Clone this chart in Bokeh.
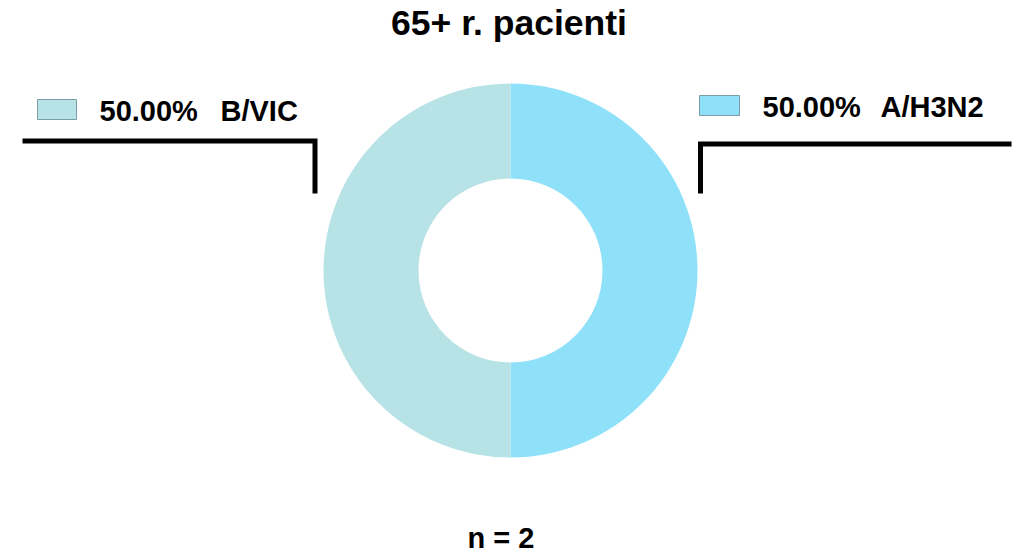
from math import pi
from bokeh.plotting import figure
from bokeh.models import Range1d
from bokeh.core.properties import value
from bokeh.embed import file_html
from bokeh.resources import INLINE

# ---- data ----
categories = ["A/H3N2", "B/VIC"]
counts = [1, 1]
colors = ["#8fe1fa", "#b7e2e6"]
title_text = "65+ r. pacienti"

total = sum(counts)
percents = [f"{c / total * 100:.2f}%" for c in counts]

W, H = 1018, 553
p = figure(width=W, height=H, output_backend="svg", toolbar_location=None,
           x_range=Range1d(0, W), y_range=Range1d(0, H),
           min_border=0, outline_line_color=None)
p.axis.visible = False
p.grid.visible = False

def Y(y):  # reference (top-down) pixel -> data
    return H - y

cx, cy = 510, Y(270)
r_out, r_in = 187, 92

# wedges, starting at 12 o'clock going clockwise
start = pi / 2
for cat, c, col in zip(categories, counts, colors):
    sweep = c / total * 2 * pi
    p.annular_wedge(x=cx, y=cy, inner_radius=r_in, outer_radius=r_out,
                    start_angle=start, end_angle=start - sweep, direction="clock",
                    fill_color=col, line_color=None)
    start -= sweep

font = value("Liberation Sans")

def label(x, y, txt, size, align="left"):
    p.text(x=[x], y=[Y(y)], text=[txt], text_font=font, text_font_size=size,
           text_font_style="bold", text_align=align, text_baseline="middle",
           text_color="black")

# title
label(508.5, 22, title_text, "35.5px", "center")
# n = ...
label(500.5, 537, f"n = {total}", "29px", "center")

lw = 5
fs = "29px"
# right callout: A/H3N2
xr = 700
p.line(x=[xr, xr, 1011], y=[Y(193), Y(143.5), Y(143.5)], line_color="black", line_width=lw,
       line_join="miter")
p.quad(left=[699], right=[739], top=[Y(95)], bottom=[Y(115)], fill_color=colors[0],
       line_color="#7a9ea6", line_width=1)
label(762, 106, percents[0], fs)
label(880, 106, categories[0], fs)
# left callout: B/VIC
xl = 314.5
p.line(x=[22, xl, xl], y=[Y(140.5), Y(140.5), Y(193)], line_color="black", line_width=lw,
       line_join="miter")
p.quad(left=[37], right=[76], top=[Y(99)], bottom=[Y(119)], fill_color=colors[1],
       line_color="#7a9ea6", line_width=1)
label(99, 110, percents[1], fs)
label(220, 110, categories[1], fs)

open("out.html", "w").write(file_html(p, INLINE))
